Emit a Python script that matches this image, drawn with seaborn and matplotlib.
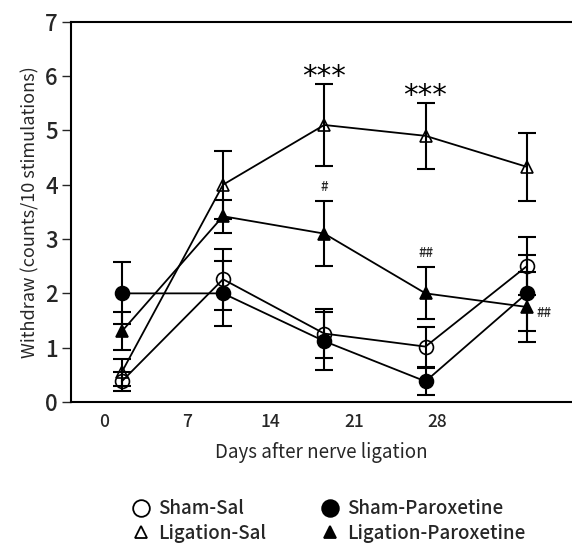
import numpy as np
import pandas as pd
import matplotlib
matplotlib.use("Agg")
import matplotlib.pyplot as plt
from matplotlib.lines import Line2D
import seaborn as sns

sns.set_style("ticks")
plt.rcParams["font.family"] = ["Noto Sans CJK JP", "DejaVu Sans"]
plt.rcParams["font.weight"] = "medium"

# Data
days = [1.5, 10, 18.5, 27, 35.5]

sham_sal = [0.38, 2.26, 1.26, 1.02, 2.50]
sham_sal_err = [0.18, 0.56, 0.45, 0.37, 0.53]

sham_par = [2.00, 2.00, 1.12, 0.38, 2.00]
sham_par_err = [0.57, 0.60, 0.53, 0.25, 0.70]

lig_sal = [0.55, 4.00, 5.10, 4.90, 4.33]
lig_sal_err = [0.25, 0.63, 0.76, 0.61, 0.63]

lig_par = [1.30, 3.42, 3.10, 2.00, 1.75]
lig_par_err = [0.35, 0.30, 0.60, 0.48, 0.65]

groups = ["Sham-Sal", "Ligation-Sal", "Sham-Paroxetine", "Ligation-Paroxetine"]
values = [sham_sal, lig_sal, sham_par, lig_par]
errors = [sham_sal_err, lig_sal_err, sham_par_err, lig_par_err]
markers = ["o", "^", "o", "^"]
faces = ["none", "none", "black", "black"]

xticks = [0, 7, 14, 21, 28]

# Long-form table
df = pd.DataFrame({
    "day": days * 4,
    "withdraw": sum(values, []),
    "err": sum(errors, []),
    "group": [g for g in groups for _ in days],
})

fig = plt.figure(figsize=(5.72, 5.44), dpi=100)
ax = fig.add_axes([0.124, 0.261, 0.876, 0.699])

for g, m, fc in zip(groups, markers, faces):
    sub = df[df["group"] == g]
    ax.errorbar(sub["day"], sub["withdraw"], yerr=sub["err"], fmt="none",
                ecolor="black", elinewidth=1.5, capsize=6.5, capthick=1.5, zorder=3)
    sns.lineplot(data=sub, x="day", y="withdraw", ax=ax, color="black",
                 linewidth=1.3, marker=m, markersize=10 if m == "o" else 9,
                 markerfacecolor=fc, markeredgecolor="black", markeredgewidth=1.2,
                 errorbar=None, zorder=4)

# significance marks
for i in [2, 3]:
    ax.text(days[i], lig_sal[i] + lig_sal_err[i] + 0.12, "***", ha="center",
            va="center", fontsize=21, family="DejaVu Sans", fontweight="normal",
            color="black")
    ax.text(days[i], lig_par[i] + lig_par_err[i] + 0.26, "#" * (i - 1), ha="center",
            va="center", fontsize=9.5)
ax.text(days[4] + 0.8, lig_par[4] - 0.12, "##", ha="left", va="center", fontsize=9.5)

ax.set_xlim(-2.77, 39.3)
ax.set_ylim(0, 7)
ax.set_xticks(xticks)
ax.set_yticks(range(0, 8))
ax.tick_params(axis="y", length=6.5, width=1.0, labelsize=16, pad=3)
ax.tick_params(axis="x", length=0, labelsize=12.5, pad=8)
ax.set_xlabel("Days after nerve ligation", fontsize=13.5, labelpad=8)
ax.set_ylabel("Withdraw (counts/10 stimulations)", fontsize=13, labelpad=4)

for s in ["left", "top", "bottom"]:
    ax.spines[s].set_linewidth(1.5)
    ax.spines[s].set_color("black")
ax.spines["right"].set_visible(False)

handles = [Line2D([], [], marker=m, color="black", markerfacecolor=fc, linestyle="none",
                  markersize=12 if m == "o" else 9, markeredgewidth=1.3)
           for m, fc in zip(markers, faces)]
fig.legend(handles, groups, loc="upper left", bbox_to_anchor=(0.232, 0.082), ncol=2,
           frameon=False, fontsize=13.5, handlelength=0.9, handletextpad=0.45,
           borderpad=0, borderaxespad=0, labelspacing=0.3, columnspacing=2.95)

fig.savefig("out.png", dpi=100)
